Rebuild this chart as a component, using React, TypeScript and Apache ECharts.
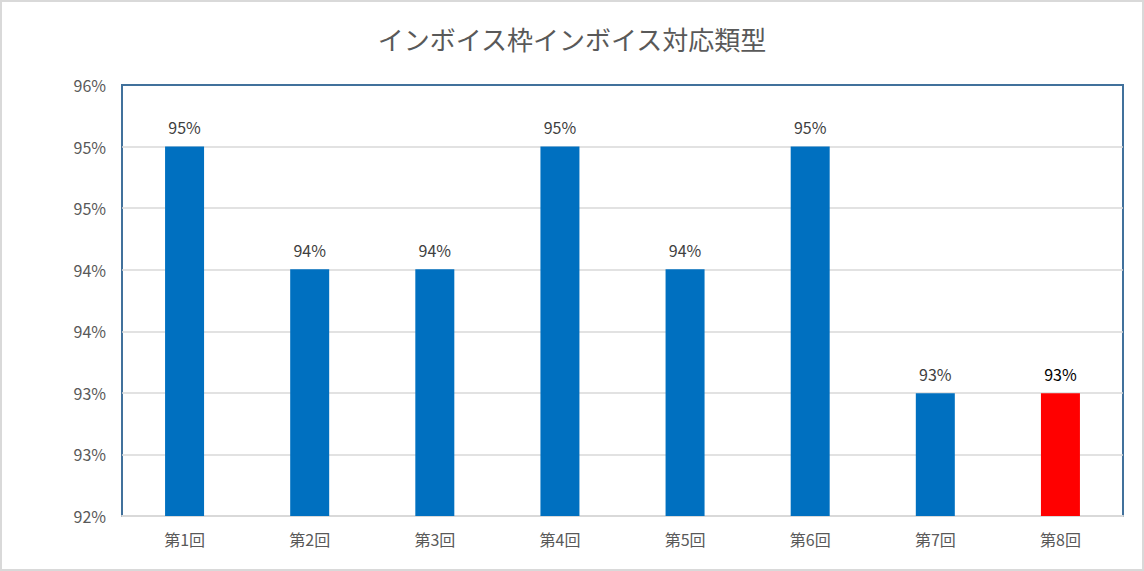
import React, { useEffect, useRef } from "react";
import * as echarts from "echarts";

const titleText = "インボイス枠インボイス対応類型";
const categories = ["第1回", "第2回", "第3回", "第4回", "第5回", "第6回", "第7回", "第8回"];
const values = [0.9543, 0.9429, 0.9429, 0.9543, 0.9429, 0.9543, 0.9314, 0.9314];
const barColors = ["#0070C0", "#0070C0", "#0070C0", "#0070C0", "#0070C0", "#0070C0", "#0070C0", "#FF0000"];
const labelColors = ["#404040", "#404040", "#404040", "#404040", "#404040", "#404040", "#404040", "#000000"];
const yMin = 0.92;
const yMax = 0.96;

export default function App() {
  const ref = useRef<HTMLDivElement>(null);
  useEffect(() => {
    if (!ref.current) return;
    const chart = echarts.init(ref.current, null, { renderer: "svg" });
    const font = "'Noto Sans CJK JP', 'Noto Sans', sans-serif";
    chart.setOption({
      animation: false,
      backgroundColor: "#ffffff",
      title: {
        text: titleText,
        left: "center",
        top: 18,
        textStyle: { color: "#595959", fontSize: 26, fontWeight: "normal", fontFamily: font },
      },
      grid: {
        left: 120,
        right: 19,
        top: 83,
        bottom: 53,
        show: true,
        borderColor: "#41719C",
        borderWidth: 2,
      },
      xAxis: [
        {
          type: "category",
          data: categories,
          axisLine: { show: true, lineStyle: { color: "#D9D9D9", width: 2 } },
          axisTick: { show: false },
          axisLabel: { color: "#595959", fontSize: 16, fontFamily: font, margin: 15 },
        },
        {
          type: "category",
          position: "top",
          data: categories,
          axisLine: { show: true, lineStyle: { color: "#41719C", width: 2 } },
          axisTick: { show: false },
          axisLabel: { show: false },
          z: 5,
        },
      ],
      yAxis: {
        type: "value",
        min: yMin,
        max: yMax,
        interval: (yMax - yMin) / 7,
        axisLine: { show: false },
        axisTick: { show: false },
        splitLine: { lineStyle: { color: "#D9D9D9", width: 1.5 } },
        axisLabel: {
          color: "#595959",
          fontSize: 16,
          fontFamily: font,
          margin: 16,
          formatter: (v: number) => Math.round(v * 100) + "%",
        },
      },
      series: [
        {
          type: "bar",
          barWidth: 39,
          data: values.map((v, i) => ({
            value: v,
            itemStyle: { color: barColors[i] },
            label: { color: labelColors[i] },
          })),
          label: {
            show: true,
            position: "top",
            distance: 11,
            fontSize: 16,
            fontFamily: font,
            formatter: (p: any) => Math.round(p.value * 100) + "%",
          },
        },
      ],
    });
    return () => chart.dispose();
  }, []);
  return (
    <div
      style={{
        position: "fixed",
        left: 0,
        top: 0,
        width: 1144,
        height: 571,
        boxSizing: "border-box",
        border: "2px solid #D9D9D9",
        background: "#fff",
      }}
    >
      <div ref={ref} style={{ width: 1140, height: 567 }} />
    </div>
  );
}
